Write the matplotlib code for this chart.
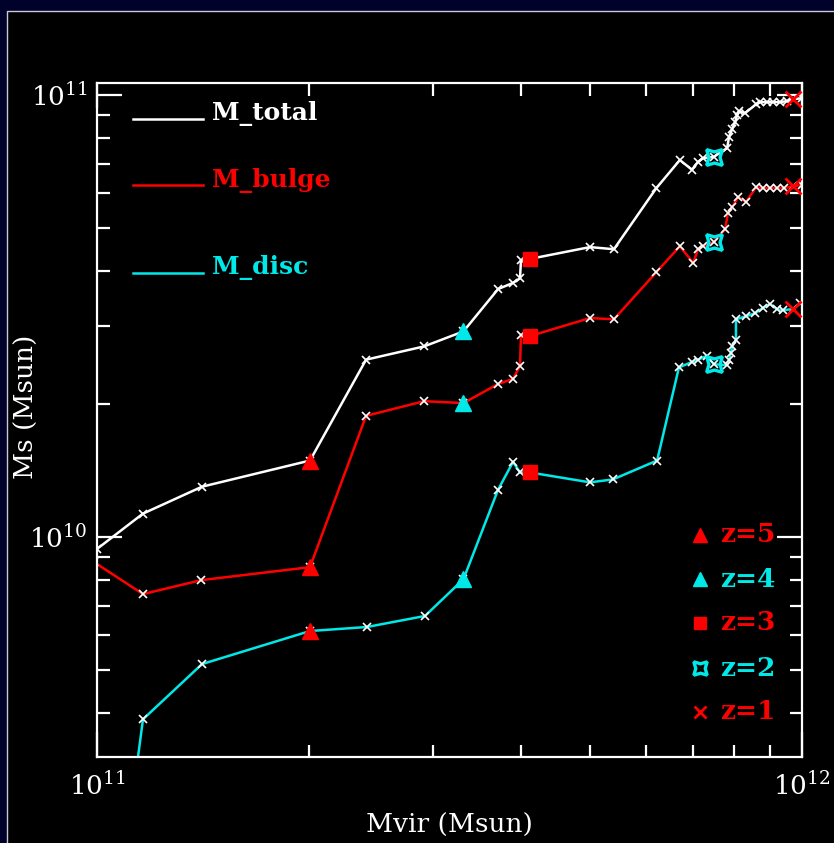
import matplotlib.pyplot as plt
from matplotlib.patches import Rectangle
from matplotlib.ticker import LogLocator

# Halo mass (units of 1e11 Msun) and stellar masses (units of 1e10 Msun)
mvir_total = [1.00, 1.162, 1.409, 2.005, 2.408, 2.910, 3.31, 3.706, 3.892, 3.981,
              3.994, 4.114, 5.003, 5.41, 6.21, 6.71, 6.98, 7.12, 7.24, 7.50,
              7.83, 7.88, 7.96, 8.04, 8.09, 8.14, 8.30, 8.61, 8.72, 8.92,
              9.10, 9.31, 9.52, 9.71, 10.0]
ms_total = [0.94, 1.13, 1.30, 1.49, 2.52, 2.70, 2.92, 3.64, 3.76, 3.85,
            4.23, 4.26, 4.53, 4.48, 6.15, 7.13, 6.78, 7.06, 7.20, 7.25,
            7.59, 8.04, 8.38, 8.69, 9.01, 9.20, 9.10, 9.54, 9.64, 9.64,
            9.64, 9.64, 9.69, 9.79, 9.84]

mvir_bulge = [0.99, 1.162, 1.405, 2.005, 2.408, 2.910, 3.31, 3.706, 3.892, 3.981,
              3.994, 4.114, 5.003, 5.41, 6.21, 6.71, 7.01, 7.12, 7.24, 7.50,
              7.78, 7.85, 7.96, 8.12, 8.33, 8.61, 8.80, 9.01, 9.21, 9.43,
              9.71, 10.0]
ms_bulge = [0.878, 0.743, 0.799, 0.855, 1.88, 2.03, 2.01, 2.22, 2.28, 2.44,
            2.87, 2.85, 3.13, 3.11, 3.97, 4.55, 4.17, 4.48, 4.55, 4.65,
            4.97, 5.41, 5.58, 5.88, 5.73, 6.19, 6.16, 6.16, 6.16, 6.16,
            6.22, 6.26]

mvir_disc = [1.00, 1.162, 1.409, 2.005, 2.415, 2.919, 3.31, 3.706, 3.892, 3.981,
             4.114, 5.003, 5.39, 6.23, 6.69, 6.98, 7.12, 7.33, 7.50, 7.83,
             7.88, 7.93, 7.96, 8.06, 8.06, 8.33, 8.58, 8.80, 9.01, 9.21,
             9.40, 9.71, 9.94]
ms_disc = [0.063, 0.387, 0.516, 0.613, 0.626, 0.663, 0.803, 1.28, 1.48, 1.40,
           1.40, 1.33, 1.35, 1.49, 2.42, 2.49, 2.52, 2.57, 2.46, 2.45,
           2.52, 2.61, 2.70, 2.79, 3.11, 3.16, 3.21, 3.30, 3.37, 3.28,
           3.26, 3.28, 3.38]

# snapshot indices of z = 5, 4, 3, 2, 1 in each track
z_labels = ['z=5', 'z=4', 'z=3', 'z=2', 'z=1']
z_idx_total = [3, 6, 11, 19, 33]
z_idx_bulge = [3, 6, 11, 19, 30]
z_idx_disc = [3, 6, 10, 18, 31]

RED = '#ff0000'
CYAN = '#00e8e8'
WHITE = '#ffffff'
z_styles = [
    dict(marker='^', color=RED, ms=12, mfc=RED, mec=RED, mew=1),
    dict(marker='^', color=CYAN, ms=12, mfc=CYAN, mec=CYAN, mew=1),
    dict(marker='s', color=RED, ms=10, mfc=RED, mec=RED, mew=1),
    dict(marker=(4, 1, 45), color=CYAN, ms=16, mfc='none', mec=CYAN, mew=2.4),
    dict(marker='x', color=RED, ms=11, mfc=RED, mec=RED, mew=2),
]

plt.rcParams['mathtext.fontset'] = 'dejavuserif'
plt.rcParams['font.family'] = 'DejaVu Serif'

fig = plt.figure(figsize=(8.34, 8.43), dpi=100, facecolor='#01022b')
fig.patches.append(Rectangle((7 / 834, -0.01), 1.0, 1 - 11 / 843 + 0.01,
                             transform=fig.transFigure, facecolor='black',
                             edgecolor='#c8c8d8', linewidth=1.0, zorder=-10))

ax = fig.add_axes([97 / 834, 86 / 843, 705 / 834, 674 / 843])
ax.set_facecolor('black')
ax.set_xscale('log')
ax.set_yscale('log')
ax.set_xlim(1e11, 1e12)
ax.set_ylim(3.18e9, 1.065e11)

tracks = [
    (mvir_total, ms_total, z_idx_total, WHITE),
    (mvir_bulge, ms_bulge, z_idx_bulge, RED),
    (mvir_disc, ms_disc, z_idx_disc, CYAN),
]
for mv, ms, zi, col in tracks:
    x = [v * 1e11 for v in mv]
    y = [v * 1e10 for v in ms]
    ax.plot(x, y, '-', color=col, lw=1.8, zorder=2)
    ax.plot(x, y, 'x', color=WHITE, ms=5.5, mew=1.2, zorder=3)
    for k, i in enumerate(zi):
        ax.plot(x[i], y[i], linestyle='none', zorder=4, **z_styles[k])

for s in ax.spines.values():
    s.set_color('white')
    s.set_linewidth(1.6)

ax.xaxis.set_major_locator(LogLocator(base=10))
ax.xaxis.set_minor_locator(LogLocator(base=10, subs=range(2, 10)))
ax.yaxis.set_major_locator(LogLocator(base=10))
ax.yaxis.set_minor_locator(LogLocator(base=10, subs=range(2, 10)))
ax.tick_params(which='both', direction='in', top=True, right=True,
               colors='white', width=1.6)
ax.tick_params(which='major', length=18, labelsize=19)
ax.tick_params(axis='x', which='major', pad=11)
ax.tick_params(axis='y', which='major', pad=7)
ax.tick_params(which='minor', length=9, labelleft=False, labelbottom=False)

ax.set_xlabel('Mvir (Msun)', color='white', fontsize=19)
ax.set_ylabel('Ms (Msun)', color='white', fontsize=19)
ax.xaxis.set_label_coords(0.5, -0.083)
ax.yaxis.set_label_coords(-0.083, 0.52)

# line key, upper left
key_lines = [('M_total', WHITE, 0.947), ('M_bulge', RED, 0.848), ('M_disc', CYAN, 0.718)]
for name, col, yk in key_lines:
    ax.plot([0.051, 0.150], [yk, yk], color=col, lw=1.8, transform=ax.transAxes)
    ax.text(0.163, yk + 0.008, name, color=col, fontsize=18,
            fontweight='bold', va='center', ha='left', transform=ax.transAxes)

# redshift key, lower right
z_key_y = [0.330, 0.264, 0.199, 0.132, 0.067]
for lab, st, yk in zip(z_labels, z_styles, z_key_y):
    kw = dict(st)
    kw['ms'] = kw['ms'] * 0.85
    ax.plot([0.855], [yk], linestyle='none', transform=ax.transAxes, **kw)
    ax.text(0.884, yk, lab, color=st['color'], fontsize=19,
            fontweight='bold', va='center', ha='left', transform=ax.transAxes)

fig.savefig('out.png', dpi=100, facecolor=fig.get_facecolor())
